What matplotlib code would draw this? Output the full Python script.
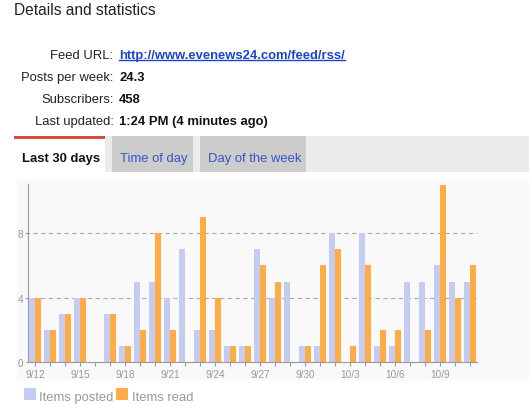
import matplotlib.pyplot as plt
from matplotlib.patches import Rectangle
from matplotlib.lines import Line2D

# Data (last 30 days)
days = ['9/12', '9/13', '9/14', '9/15', '9/16', '9/17', '9/18', '9/19', '9/20', '9/21',
        '9/22', '9/23', '9/24', '9/25', '9/26', '9/27', '9/28', '9/29', '9/30', '10/1',
        '10/2', '10/3', '10/4', '10/5', '10/6', '10/7', '10/8', '10/9', '10/10', '10/11']
items_posted = [4, 2, 3, 4, 0, 3, 1, 5, 5, 4,
                7, 2, 2, 1, 1, 7, 4, 5, 1, 1,
                8, 0, 8, 1, 1, 5, 5, 6, 5, 5]
items_read = [4, 2, 3, 4, 0, 3, 1, 2, 8, 2,
              0, 9, 4, 1, 1, 6, 5, 0, 1, 6,
              7, 1, 6, 2, 2, 0, 2, 11, 4, 6]

info_labels = ['Feed URL:', 'Posts per week:', 'Subscribers:', 'Last updated:']
info_values = ['http://www.evenews24.com/feed/rss/', '24.3', '458', '1:24 PM (4 minutes ago)']
tabs = ['Last 30 days', 'Time of day', 'Day of the week']

W, H = 529, 414
plt.rcParams['font.family'] = ['Liberation Sans', 'DejaVu Sans']
fig = plt.figure(figsize=(W / 100, H / 100), dpi=100)


def fx(px):
    return px / W


def fy(py):
    return 1 - py / H


def box(x0, y0, x1, y1, color):
    fig.patches.append(Rectangle((fx(x0), fy(y1)), fx(x1) - fx(x0), fy(y0) - fy(y1),
                                 transform=fig.transFigure, color=color, lw=0, zorder=-5))


# header
fig.text(fx(14), fy(15), 'Details and statistics', fontsize=11.2, color='#222222', va='baseline')

baselines = [59, 81, 103, 124.5]
for lab, val, b in zip(info_labels, info_values, baselines):
    fig.text(fx(113.5), fy(b), lab, fontsize=9.4, color='#222222', ha='right', va='baseline')
    if lab == 'Feed URL:':
        url = fig.text(fx(119), fy(b), val, fontsize=9.4, color='#1a44cc', fontweight='bold',
                       va='baseline')
    else:
        fig.text(fx(119), fy(b), val, fontsize=9.4, color='#111111', fontweight='bold',
                 va='baseline')

# underline for the link
fig.canvas.draw()
bb = url.get_window_extent(fig.canvas.get_renderer())
fig.lines.append(Line2D([bb.x0 / W, bb.x1 / W], [fy(61), fy(61)], transform=fig.transFigure,
                        color='#1a44cc', lw=1.0))

# tab strip
box(105, 137, 529, 173, '#ebebeb')
box(14, 137, 105, 139.5, '#dd4b39')
box(112, 137, 193, 173, '#cccccc')
box(200, 137, 306, 173, '#cccccc')
fig.text(fx(22), fy(162.5), tabs[0], fontsize=9.4, fontweight='bold', color='#111111', va='baseline')
fig.text(fx(120), fy(162.5), tabs[1], fontsize=9.4, color='#3355cc', va='baseline')
fig.text(fx(208), fy(162.5), tabs[2], fontsize=9.4, color='#3355cc', va='baseline')

# chart background
box(17, 181, 529, 381, '#f9f9f9')

ax = fig.add_axes([fx(27.5), fy(363), fx(477.5) - fx(27.5), fy(185) - fy(363)])
ax.patch.set_visible(False)
x = list(range(len(days)))
ax.bar([i - 0.2 for i in x], items_posted, width=0.4, color='#c4cdf0', zorder=2)
ax.bar([i + 0.2 for i in x], items_read, width=0.4, color='#ffac47', zorder=2)
ax.set_xlim(-0.5, len(days) - 0.5)
ax.set_ylim(0, 11.06)

for v in [4, 8]:
    ax.axhline(v, xmin=-0.005, color='#aaaaaa', lw=0.8, linestyle=(0, (4, 3)), zorder=1,
               clip_on=False)

ax.set_xticks(x)
ax.set_xticklabels([d if i % 3 == 0 else '' for i, d in enumerate(days)])
ax.set_yticks([0, 4, 8])
ax.tick_params(axis='x', length=3, pad=2, color='#999999', labelcolor='#999999', labelsize=7.2)
ax.tick_params(axis='y', length=1.5, pad=1.5, color='#999999', labelcolor='#999999', labelsize=7.2)
for s in ['top', 'right']:
    ax.spines[s].set_visible(False)
for s in ['left', 'bottom']:
    ax.spines[s].set_color('#999999')
    ax.spines[s].set_linewidth(0.8)

# legend
box(24, 388.5, 36, 401, '#c4cdf0')
fig.text(fx(39), fy(401), 'Items posted', fontsize=9.4, color='#999999', va='baseline')
box(116, 388.5, 128, 401, '#ffac47')
fig.text(fx(132), fy(401), 'Items read', fontsize=9.4, color='#999999', va='baseline')

fig.savefig('out.png', dpi=100)
